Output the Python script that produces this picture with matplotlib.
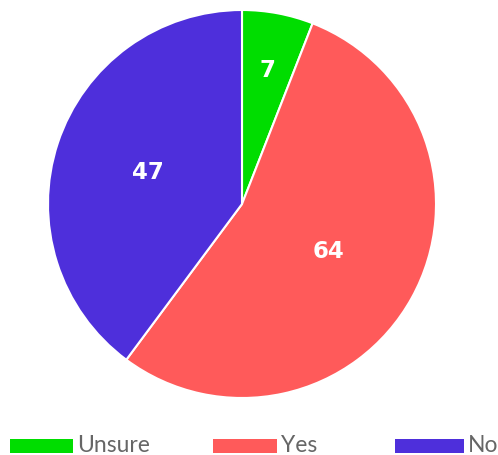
import numpy as np
import matplotlib.pyplot as plt
from matplotlib.patches import Rectangle

categorias = ['Unsure', 'Yes', 'No']
valores = [7, 64, 47]
colores = ['#00dd00', '#ff5a5a', '#4e2fdb']
# distancia radial de cada etiqueta
dist_etiquetas = [0.70, 0.51, 0.51]

W, H = 498, 455
fig = plt.figure(figsize=(W / 100, H / 100), dpi=100)

# pie centrado en (242, 204) px con radio 194
cx, cy, r = 242, 204, 194
ax = fig.add_axes([(cx - r) / W, (H - cy - r) / H, 2 * r / W, 2 * r / H])
wedges, _ = ax.pie(valores, colors=colores, startangle=90, counterclock=False,
                   radius=1, wedgeprops=dict(edgecolor='white', linewidth=1.5))
ax.set_xlim(-1, 1)
ax.set_ylim(-1, 1)
ax.set_aspect('equal')
ax.axis('off')

for w, v, d in zip(wedges, valores, dist_etiquetas):
    ang = np.deg2rad((w.theta1 + w.theta2) / 2)
    ax.text(d * np.cos(ang), d * np.sin(ang), str(v), color='white',
            fontsize=16.5, fontweight='bold', family='DejaVu Sans',
            ha='center', va='center')

# leyenda manual
cajas_x = [10, 213, 395]
ancho_caja = [63, 64, 69]
for x0, wc, c, lab in zip(cajas_x, ancho_caja, colores, categorias):
    fig.add_artist(Rectangle((x0 / W, (H - 453) / H), wc / W, 14 / H,
                             transform=fig.transFigure, color=c, lw=0))
    fig.text((x0 + wc + 4) / W, (H - 445) / H, lab, color='#666666',
             fontsize=16.5, family='Lato', ha='left', va='center')

fig.savefig('out.png', dpi=100)
